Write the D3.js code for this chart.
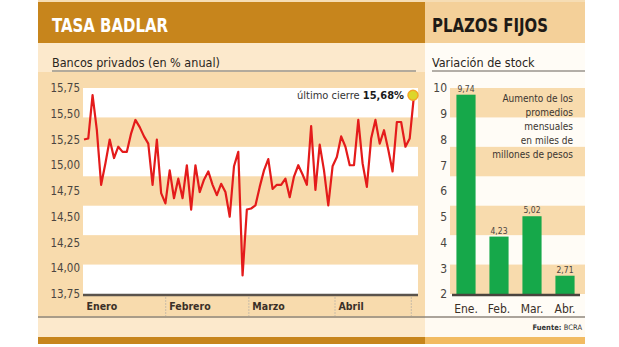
<!DOCTYPE html>
<html><head><meta charset="utf-8">
<script src="https://cdn.jsdelivr.net/npm/d3@7"></script>
<style>
body{margin:0;background:#fff}
svg{display:block}
text{font-family:"Liberation Sans Narrow","DejaVu Sans Condensed","Roboto",Arial,sans-serif}
</style>
</head><body>
<svg id="c" width="619" height="347"></svg>
<script>
// ---- data ----
const badlarValues = [15.25,15.26,15.68,15.34,14.81,15.02,15.25,15.07,15.18,15.13,
  15.13,15.31,15.44,15.37,15.28,15.21,14.81,15.25,14.73,14.63,
  14.95,14.68,14.87,14.68,15.00,14.57,15.00,14.74,14.86,14.94,
  14.81,14.71,14.82,14.74,14.50,14.99,15.13,13.93,14.57,14.58,
  14.61,14.79,14.95,15.06,14.77,14.81,14.81,14.87,14.69,14.89,
  15.00,14.91,14.81,15.38,14.76,15.20,14.95,14.61,14.99,15.08,
  15.28,15.18,15.00,15.00,15.44,15.02,14.79,15.26,15.44,15.21,
  15.34,15.15,14.94,15.42,15.42,15.18,15.26,15.68];
const monthLabels = ["Enero","Febrero","Marzo","Abril"];
const monthStartIndex = [0, 19.3, 38.7, 58.8];
const seriesEndIndex = 76.6;
const leftTicks = [13.75,14.00,14.25,14.50,14.75,15.00,15.25,15.50,15.75];
const stockCategories = ["Ene.","Feb.","Mar.","Abr."];
const stockValues = [9.74,4.23,5.02,2.71];
const rightTicks = [2,3,4,5,6,7,8,9,10];
const noteLines = ["Aumento de los","promedios","mensuales","en miles de","millones de pesos"];

// ---- helpers ----
const loc = d3.formatLocale({decimal:",",thousands:".",grouping:[3],currency:["$",""]});
const f2 = loc.format(".2f");

const svg = d3.select("#c");
const C = {dark:"#c7851c", tan:"#f8dbad", cream:"#fce9cc", hdrR:"#f4d099", lightBar:"#f2bb62"};

// ---- left panel background ----
svg.append("rect").attr("x",38).attr("y",0).attr("width",547).attr("height",3).attr("fill","#f6ddb4");
svg.append("rect").attr("x",38).attr("y",2).attr("width",387).attr("height",41).attr("fill",C.dark);
svg.append("rect").attr("x",38).attr("y",43).attr("width",387).attr("height",29).attr("fill",C.cream);
svg.append("rect").attr("x",38).attr("y",72).attr("width",387).attr("height",246).attr("fill",C.tan);
svg.append("rect").attr("x",38).attr("y",318).attr("width",387).attr("height",19).attr("fill",C.cream);
svg.append("rect").attr("x",38).attr("y",337).attr("width",387).attr("height",7).attr("fill",C.dark);

// ---- right panel background ----
svg.append("rect").attr("x",425).attr("y",2).attr("width",160).attr("height",41).attr("fill",C.hdrR);
svg.append("rect").attr("x",425).attr("y",43).attr("width",160).attr("height",275).attr("fill","#fffcf6");
svg.append("rect").attr("x",425).attr("y",318).attr("width",160).attr("height",19).attr("fill","#fffaf2");
svg.append("rect").attr("x",425).attr("y",337).attr("width",160).attr("height",7).attr("fill",C.lightBar);

// titles
svg.append("text").attr("x",52).attr("y",32).attr("fill","#fff").attr("font-size",20).attr("font-weight","bold")
  .attr("textLength",116).attr("lengthAdjust","spacingAndGlyphs").text("TASA BADLAR");
svg.append("text").attr("x",432).attr("y",32).attr("fill","#1e1a16").attr("font-size",20).attr("font-weight","bold")
  .attr("textLength",116).attr("lengthAdjust","spacingAndGlyphs").text("PLAZOS FIJOS");
svg.append("text").attr("x",52).attr("y",67).attr("fill","#2a2520").attr("font-size",12.5).text("Bancos privados (en % anual)");
svg.append("text").attr("x",432).attr("y",67).attr("fill","#2a2520").attr("font-size",12.5).text("Variación de stock");
svg.append("line").attr("x1",52).attr("x2",416).attr("y1",71).attr("y2",71).attr("stroke","#9a948c").attr("stroke-width",1.5);
svg.append("line").attr("x1",432).attr("x2",585).attr("y1",71).attr("y2",71).attr("stroke","#9a948c").attr("stroke-width",1.5);

// ---- left chart ----
const xL = d3.scaleLinear().domain([0, badlarValues.length-1]).range([84, 414]);
const yL = d3.scaleLinear().domain([13.75, 15.75]).range([294, 88]);
const plotL = {x0:83, x1:418};
const nBands = 7;
const bandH = (yL(13.75)-yL(15.75))/nBands;
for (let i=0;i<nBands;i+=2){
  svg.append("rect").attr("x",plotL.x0).attr("width",plotL.x1-plotL.x0)
    .attr("y",yL(15.75)+i*bandH).attr("height",bandH).attr("fill","#fff");
}
const yAxL = svg.append("g").attr("transform","translate(80,0)")
  .call(d3.axisLeft(yL).tickValues(leftTicks).tickSize(0).tickPadding(0).tickFormat(f2));
yAxL.select(".domain").remove();
yAxL.selectAll("text").attr("font-size",11.5).attr("fill","#4a4540").attr("font-family",null);

const xAxL = svg.append("g").attr("transform","translate(0,296)")
  .call(d3.axisBottom(xL).tickValues(monthStartIndex).tickSize(0).tickPadding(7).tickFormat((d,i)=>monthLabels[i]));
xAxL.select(".domain").remove();
xAxL.selectAll("text").attr("text-anchor","start").attr("dx",2).attr("font-size",10.5).attr("font-weight","bold")
  .attr("fill","#3a3028").attr("font-family",null);
// month separators
const sepIdx = monthStartIndex.slice(1).concat([seriesEndIndex]);
svg.selectAll(".sep").data(sepIdx).join("line").attr("class","sep")
  .attr("x1",d=>xL(d)-1).attr("x2",d=>xL(d)-1).attr("y1",297).attr("y2",316)
  .attr("stroke","#c9bca8").attr("stroke-width",1).attr("stroke-dasharray","2,1");
svg.append("line").attr("x1",plotL.x0).attr("x2",plotL.x1).attr("y1",295).attr("y2",295).attr("stroke","#5a534c").attr("stroke-width",2.5);
svg.append("line").attr("x1",38).attr("x2",419).attr("y1",317).attr("y2",317).attr("stroke","#8f877d").attr("stroke-width",1.5);

const line = d3.line().x((d,i)=>xL(i)).y(d=>yL(d));
svg.append("path").datum(badlarValues).attr("d",line).attr("fill","none")
  .attr("stroke","#e41b1b").attr("stroke-width",2.2).attr("stroke-linejoin","round");
const lastI = badlarValues.length-1;
svg.append("circle").attr("cx",xL(lastI)-1).attr("cy",yL(badlarValues[lastI])).attr("r",5)
  .attr("fill","#dcd62a").attr("stroke","#f3a626").attr("stroke-width",1.5);
const ann = svg.append("text").attr("x",404).attr("y",99).attr("text-anchor","end").attr("font-size",11).attr("fill","#333");
ann.append("tspan").text("último cierre ");
ann.append("tspan").attr("font-weight","bold").attr("fill","#1a1a1a").text(f2(badlarValues[lastI])+"%");

// ---- right chart ----
const xR = d3.scaleBand().domain(stockCategories).range([449.5, 581.5]).paddingInner(0.42).paddingOuter(0.21);
const yR = d3.scaleLinear().domain([2, 10]).range([294, 88]);
const bandHR = (yR(2)-yR(10))/nBands;
for (let i=0;i<nBands;i+=2){
  svg.append("rect").attr("x",450).attr("width",135)
    .attr("y",yR(10)+i*bandHR).attr("height",bandHR).attr("fill",C.tan);
}
const yAxR = svg.append("g").attr("transform","translate(447,0)")
  .call(d3.axisLeft(yR).tickValues(rightTicks).tickSize(0).tickPadding(0).tickFormat(d3.format("d")));
yAxR.select(".domain").remove();
yAxR.selectAll("text").attr("font-size",12).attr("fill","#4a4540").attr("font-family",null);

svg.selectAll(".bar").data(stockValues).join("rect").attr("class","bar")
  .attr("x",(d,i)=>xR(stockCategories[i])).attr("width",xR.bandwidth())
  .attr("y",d=>yR(d)).attr("height",d=>yR(2)-yR(d)).attr("fill","#16a84a");
svg.selectAll(".bl").data(stockValues).join("text").attr("class","bl")
  .attr("x",(d,i)=>xR(stockCategories[i])+xR.bandwidth()/2).attr("y",d=>yR(d)-3)
  .attr("text-anchor","middle").attr("font-size",8.5).attr("fill","#4a4540").text(d=>f2(d));

const xAxR = svg.append("g").attr("transform","translate(0,296)")
  .call(d3.axisBottom(xR).tickSize(0).tickPadding(8));
xAxR.select(".domain").remove();
xAxR.selectAll("text").attr("font-size",12).attr("fill","#3a3028").attr("font-family",null);
svg.append("line").attr("x1",452).attr("x2",580).attr("y1",295).attr("y2",295).attr("stroke","#4a443e").attr("stroke-width",2.5);
svg.append("line").attr("x1",419).attr("x2",585).attr("y1",317).attr("y2",317).attr("stroke","#8f877d").attr("stroke-width",1.5);

svg.selectAll(".note").data(noteLines).join("text").attr("class","note")
  .attr("x",573).attr("y",(d,i)=>102+i*14).attr("text-anchor","end")
  .attr("font-size",10).attr("fill","#3a3530").text(d=>d);

const src = svg.append("text").attr("x",582).attr("y",330).attr("text-anchor","end").attr("font-size",7.5).attr("fill","#333");
src.append("tspan").attr("font-weight","bold").text("Fuente: ");
src.append("tspan").text("BCRA");
</script>
</body></html>
